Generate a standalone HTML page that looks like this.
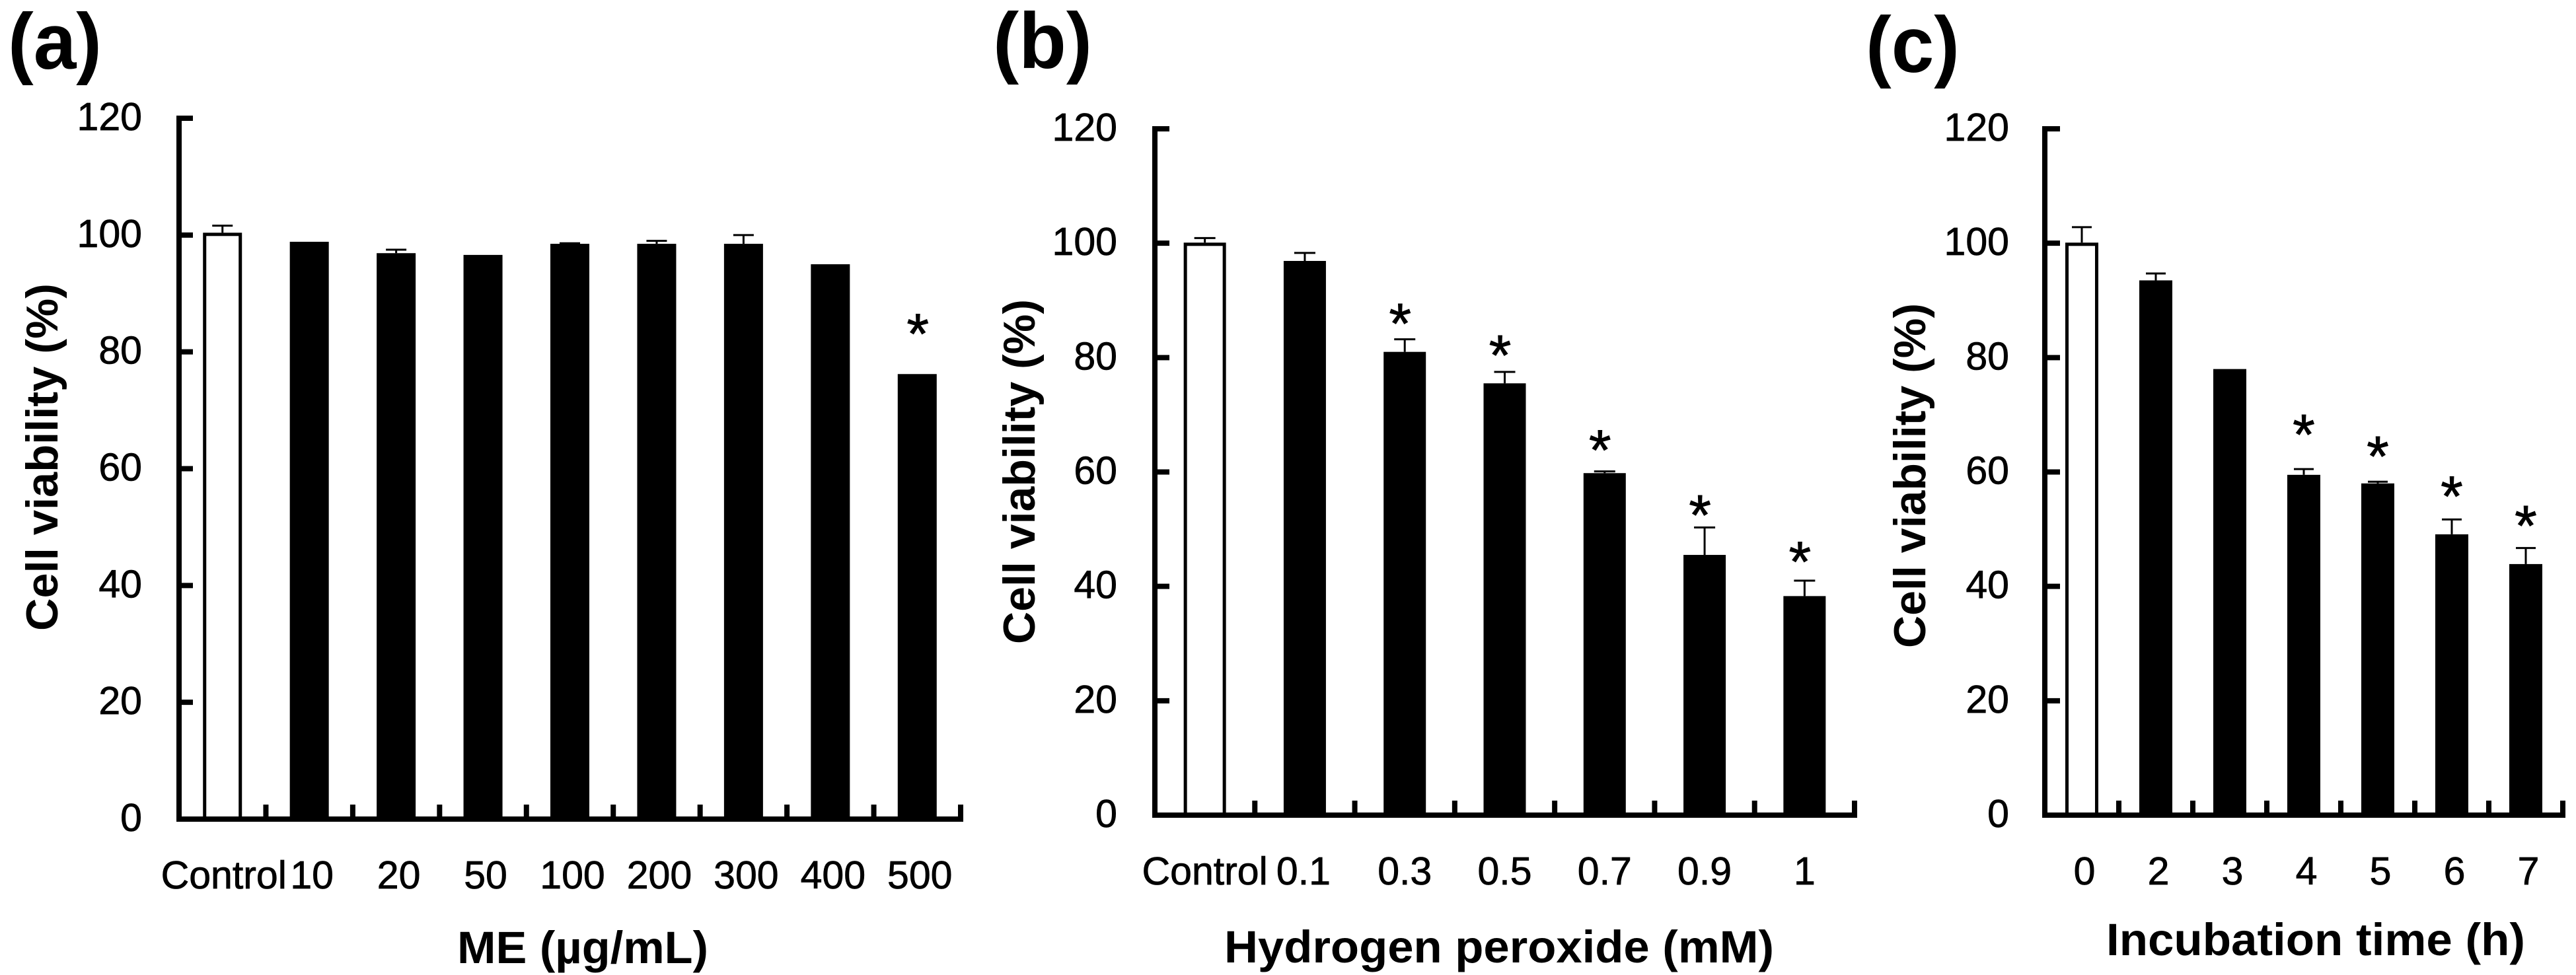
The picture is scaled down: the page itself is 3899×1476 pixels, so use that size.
<!DOCTYPE html>
<html>
<head>
<meta charset="utf-8">
<title>Cell viability charts</title>
<style>
html,body{margin:0;padding:0;background:#fff;}
svg{display:block;}
text{font-family:"Liberation Sans",Arial,sans-serif;fill:#000;}
</style>
</head>
<body>
<svg id="figure" width="3899" height="1476" viewBox="0 0 3899 1476" xmlns="http://www.w3.org/2000/svg"></svg>
<script>
// Shared value axis ticks
const yTickLabels = [0, 20, 40, 60, 80, 100, 120];

// Panel (a)
const aCategories = ['Control', '10', '20', '50', '100', '200', '300', '400', '500'];
const aValues = [100.4, 98.85, 96.9, 96.6, 98.5, 98.5, 98.5, 95, 76.2];
const aErrors = [1.2, 0, 0.6, 0, 0.1, 0.5, 1.5, 0, 0];
const aStars = [null, null, null, null, null, null, null, null, 84.8];

// Panel (b)
const bCategories = ['Control', '0.1', '0.3', '0.5', '0.7', '0.9', '1'];
const bValues = [100.1, 96.9, 81, 75.5, 59.8, 45.5, 38.3];
const bErrors = [0.8, 1.4, 2.2, 2, 0.3, 4.8, 2.7];
const bStars = [null, null, 87.7, 82.2, 65.6, 54.2, 46.1];

// Panel (c)
const cCategories = ['0', '2', '3', '4', '5', '6', '7'];
const cValues = [100.1, 93.5, 78, 59.5, 58, 49.1, 43.9];
const cErrors = [2.7, 1.2, 0, 1, 0.3, 2.6, 2.8];
const cStars = [null, null, null, 68.3, 64.5, 57.5, 52.4];

const NS = 'http://www.w3.org/2000/svg';
const root = document.getElementById('figure');

function node(tag, attrs, parent) {
  const el = document.createElementNS(NS, tag);
  for (const k in attrs) el.setAttribute(k, attrs[k]);
  parent.appendChild(el);
  return el;
}

function drawPanel(p, categories, values, errors, stars) {
  const g = node('g', {}, root);
  
  

  const yScale = v => p.y0 + (p.y120 - p.y0) * v / 120;
  const step = (p.xEnd - p.xAxis) / categories.length;
  const xCenter = i => p.xAxis + step * (i + 0.5);

  // panel letter
  const letter = node('text', {x: p.letterX, y: p.letterY, 'font-size': 120, 'font-weight': 'bold', textLength: p.letterW, lengthAdjust: 'spacingAndGlyphs'}, g);
  
  
  letter.textContent = '(' + p.id + ')';

  // bars
  categories.forEach((c, i) => {
    const top = yScale(values[i]);
    const cx = xCenter(i);
    if (errors[i] > 0) {
      const errTop = yScale(values[i] + errors[i]);
      const stem = node('line', {x1: cx, x2: cx, y1: errTop, y2: top, stroke: '#000', 'stroke-width': 3}, g);
      
      
      const cap = node('line', {x1: cx - p.capW / 2, x2: cx + p.capW / 2, y1: errTop, y2: errTop, stroke: '#000', 'stroke-width': 3}, g);
      
      
    }
    let bar;
    if (i === 0) {
      bar = node('rect', {x: cx - p.barW / 2 + 2.5, y: top + 2.5, width: p.barW - 5, height: p.y0 - top - 2.5, fill: '#fff', stroke: '#000', 'stroke-width': 5}, g);
    } else {
      bar = node('rect', {x: cx - p.barW / 2, y: top, width: p.barW, height: p.y0 - top, fill: '#000'}, g);
    }
    
    

    if (stars[i] !== null) {
      const star = node('text', {x: cx + p.starDx, y: yScale(stars[i]) + 45, 'font-size': 86, 'text-anchor': 'middle', stroke: '#000', 'stroke-width': 1}, g);
      
      
      star.textContent = '*';
    }

    const label = node('text', {x: cx + p.labelDx + (i === 0 ? p.firstLabelDx : 0) + (i === 1 ? p.secondLabelDx : 0), y: p.labelY, 'font-size': 59, 'text-anchor': 'middle', stroke: '#000', 'stroke-width': 0.8}, g);
    
    
    label.textContent = c;
  });

  // axes
  const yAxis = node('line', {x1: p.xAxis, x2: p.xAxis, y1: p.y120 - 4, y2: p.y0 + 4, stroke: '#000', 'stroke-width': 8}, g);
  
  
  const xAxis = node('line', {x1: p.xAxis, x2: p.xEnd + 4, y1: p.y0, y2: p.y0, stroke: '#000', 'stroke-width': 8}, g);
  
  

  yTickLabels.forEach(v => {
    const y = yScale(v);
    if (v > 0) {
      const tick = node('line', {x1: p.xAxis, x2: p.xAxis + p.yTickLen, y1: y, y2: y, stroke: '#000', 'stroke-width': 8}, g);
      
      
    }
    const t = node('text', {x: p.yLabelX, y: y + 18, 'font-size': 59, 'text-anchor': 'end', stroke: '#000', 'stroke-width': 0.8}, g);
    
    
    t.textContent = v;
  });

  for (let i = 1; i <= categories.length; i++) {
    const x = p.xAxis + step * i;
    const tick = node('line', {x1: x, x2: x, y1: p.y0, y2: p.y0 - 22, stroke: '#000', 'stroke-width': 8}, g);
    
    
  }

  // titles
  const yTitle = node('text', {transform: 'translate(' + p.yTitleX + ',' + p.yTitleCy + ') rotate(-90)', 'font-size': 68, 'font-weight': 'bold', 'text-anchor': 'middle', textLength: p.yTitleLen, lengthAdjust: 'spacingAndGlyphs'}, g);
  
  
  yTitle.textContent = 'Cell viability (%)';

  const xTitle = node('text', {x: p.xTitleX, y: p.xTitleY, 'font-size': 69, 'font-weight': 'bold', textLength: p.xTitleLen, lengthAdjust: 'spacingAndGlyphs'}, g);
  
  
  xTitle.textContent = p.xTitle;
}

drawPanel({id: 'a', xAxis: 271, xEnd: 1454, y0: 1240, y120: 179, barW: 59, capW: 31, starDx: 1,
  labelDx: 4, firstLabelDx: -2, secondLabelDx: 0, labelY: 1345, yTickLen: 21, yLabelX: 215,
  letterX: 12, letterY: 104, letterW: 142, yTitleX: 87, yTitleCy: 692, yTitleLen: 526,
  xTitle: 'ME (\u00b5g/mL)', xTitleX: 692, xTitleY: 1458, xTitleLen: 380}, aCategories, aValues, aErrors, aStars);

drawPanel({id: 'b', xAxis: 1748, xEnd: 2807, y0: 1234, y120: 195, barW: 64, capW: 32, starDx: -7,
  labelDx: 0, firstLabelDx: 0, secondLabelDx: -2, labelY: 1339, yTickLen: 22, yLabelX: 1691,
  letterX: 1503, letterY: 103, letterW: 150, yTitleX: 1566, yTitleCy: 714, yTitleLen: 522,
  xTitle: 'Hydrogen peroxide (mM)', xTitleX: 1853, xTitleY: 1457, xTitleLen: 832}, bCategories, bValues, bErrors, bStars);

drawPanel({id: 'c', xAxis: 3095, xEnd: 3879, y0: 1234, y120: 195, barW: 50, capW: 30, starDx: 0,
  labelDx: 4, firstLabelDx: 0, secondLabelDx: 0, labelY: 1339, yTickLen: 23, yLabelX: 3041,
  letterX: 2824, letterY: 109, letterW: 142, yTitleX: 2914, yTitleCy: 720, yTitleLen: 522,
  xTitle: 'Incubation time (h)', xTitleX: 3188, xTitleY: 1446, xTitleLen: 634}, cCategories, cValues, cErrors, cStars);
</script>
</body>
</html>
